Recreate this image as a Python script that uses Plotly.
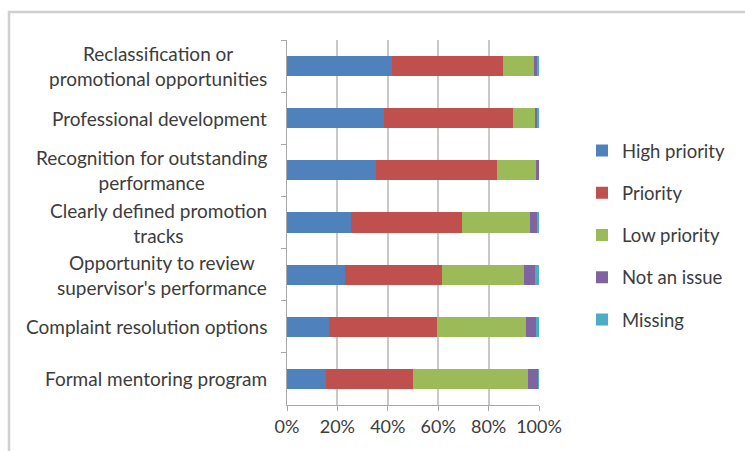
import plotly.graph_objects as go

categories = [
    "Reclassification or<br>promotional opportunities",
    "Professional development",
    "Recognition for outstanding<br>performance",
    "Clearly defined promotion<br>tracks",
    "Opportunity to review<br>supervisor's performance",
    "Complaint resolution options",
    "Formal mentoring program",
]
high_priority = [41.5, 38.5, 35.2, 25.4, 23.0, 16.7, 15.4]
priority      = [44.1, 51.3, 48.3, 44.2, 38.4, 42.9, 34.5]
low_priority  = [12.5, 9.0, 15.3, 26.8, 32.6, 35.2, 45.9]
not_an_issue  = [1.5, 0.5, 1.2, 3.2, 4.4, 3.9, 3.9]
missing       = [0.4, 0.7, 0.0, 0.4, 1.6, 1.3, 0.3]
x_ticks = [0, 20, 40, 60, 80, 100]
x_tick_labels = ["0%", "20%", "40%", "60%", "80%", "100%"]

series = [
    ("High priority", high_priority, "#4F81BD"),
    ("Priority", priority, "#C0504D"),
    ("Low priority", low_priority, "#9BBB59"),
    ("Not an issue", not_an_issue, "#8064A2"),
    ("Missing", missing, "#4BACC6"),
]

FONT = "Lato"
TXT = "#3c3c3c"

fig = go.Figure()
for name, vals, col in series:
    fig.add_trace(go.Bar(
        y=categories, x=vals, name=name, orientation="h",
        marker=dict(color=col, line=dict(width=0)),
        legendgroup=name,
    ))

for c in categories:
    fig.add_annotation(
        x=0, xref="paper", y=c, yref="y", text=c, showarrow=False,
        xanchor="right", align="center", xshift=-18,
        font=dict(family=FONT, size=19, color=TXT),
    )

fig.add_shape(type="rect", xref="paper", yref="paper",
              x0=(9 - 287) / 252, x1=(770 - 287) / 252,
              y0=(405 - 470) / 365, y1=(405 - 12) / 365,
              line=dict(color="#cfcfcf", width=2.5), fillcolor="rgba(0,0,0,0)",
              layer="above")

fig.update_layout(
    template="none",
    width=745, height=451,
    margin=dict(l=287, r=206, t=40, b=46, pad=0, autoexpand=False),
    barmode="stack", bargap=0.616,
    plot_bgcolor="white", paper_bgcolor="white",
    showlegend=True,
    legend=dict(
        x=(582 - 287) / 252, xanchor="left", y=0.748, yanchor="top",
        traceorder="grouped", tracegroupgap=15.2,
        font=dict(family=FONT, size=18.5, color=TXT),
        itemwidth=30, bgcolor="rgba(0,0,0,0)", borderwidth=0,
    ),
    xaxis=dict(
        range=[0, 100], tickmode="array", tickvals=x_ticks, ticktext=x_tick_labels,
        showgrid=True, gridcolor="#c8c8c8", gridwidth=2, griddash="solid",
        layer="below traces",
        showline=True, linecolor="#a8a8a8", linewidth=1,
        ticks="outside", ticklen=5, tickcolor="#a8a8a8", tickwidth=1,
        zeroline=False,
        tickfont=dict(family=FONT, size=18, color=TXT),
    ),
    yaxis=dict(
        autorange="reversed", showticklabels=False,
        showline=True, linecolor="#a8a8a8", linewidth=1,
        ticks="outside", ticklen=5, tickcolor="#a8a8a8", tickwidth=1,
        tickson="boundaries", showgrid=False, zeroline=False,
    ),
)

fig.write_html("out.html", config={"displayModeBar": False},
               post_script="document.body.style.margin='0';")
